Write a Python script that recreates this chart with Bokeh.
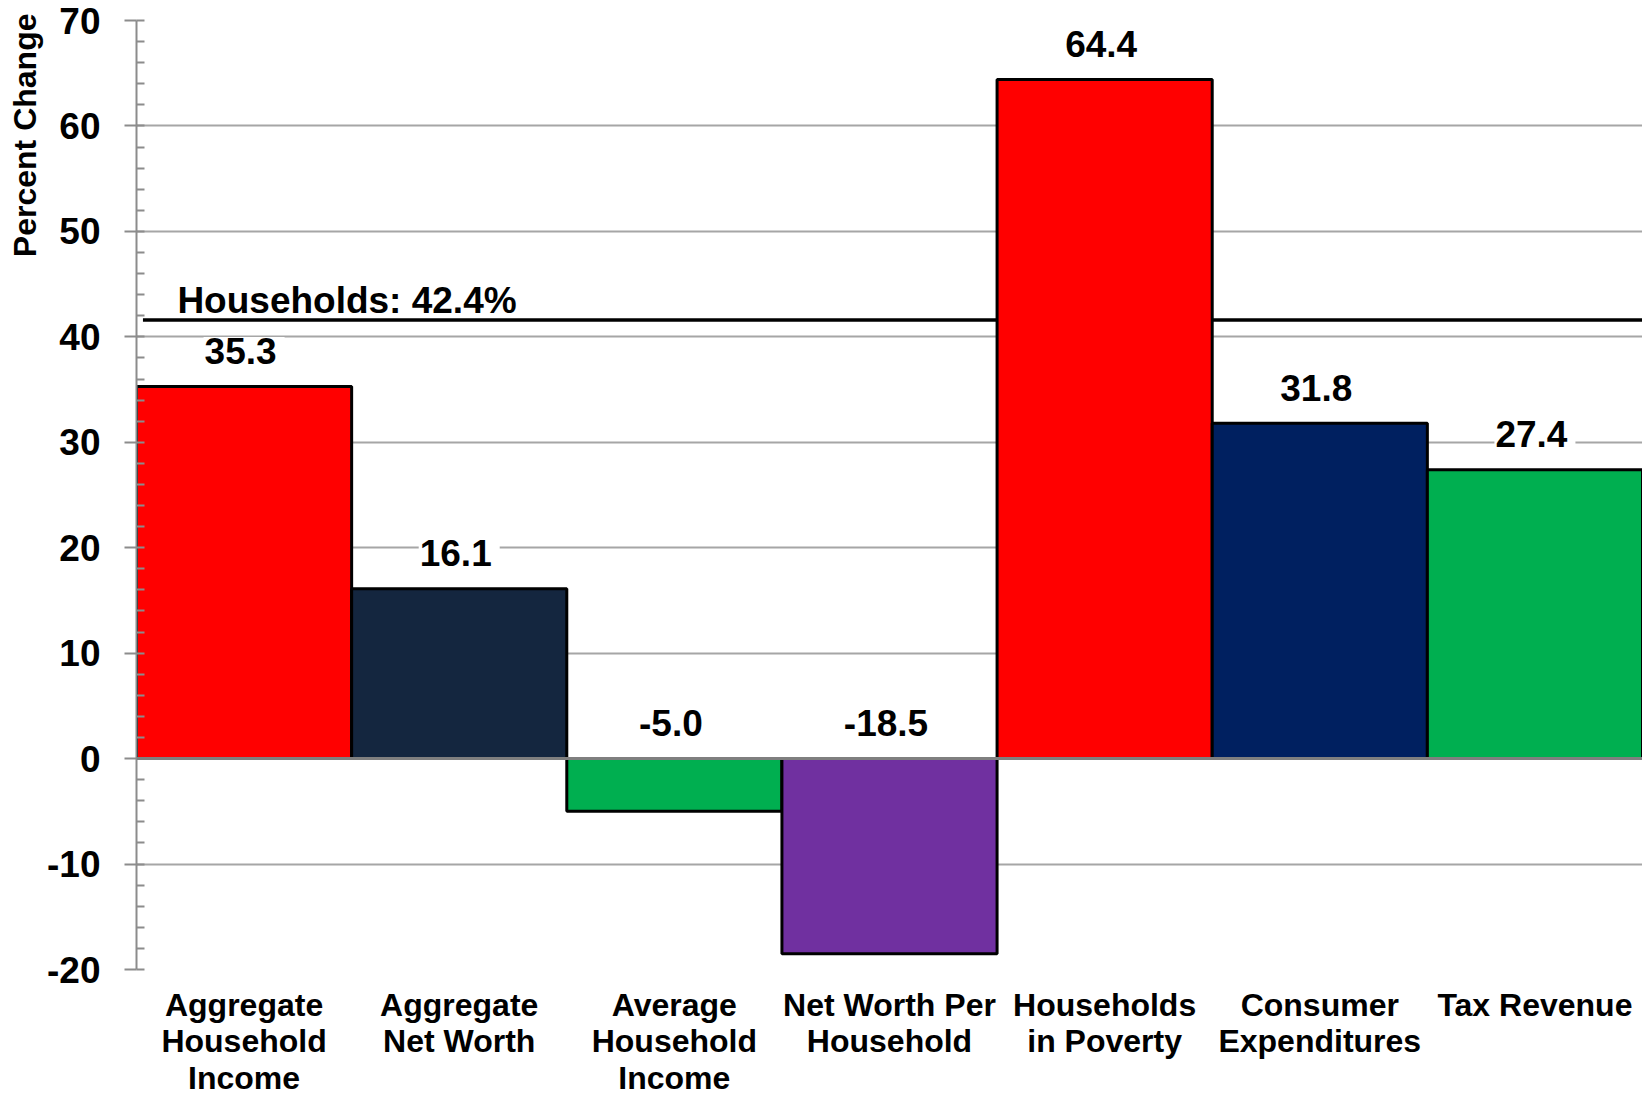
from bokeh.plotting import figure
from bokeh.models import FactorRange, Range1d, Span, Label, ColumnDataSource, FixedTicker, Title
from bokeh.core.properties import value
from bokeh.embed import file_html
from bokeh.resources import INLINE

categories = [
    "Aggregate\nHousehold\nIncome",
    "Aggregate\nNet Worth",
    "Average\nHousehold\nIncome",
    "Net Worth Per\nHousehold",
    "Households\nin Poverty",
    "Consumer\nExpenditures",
    "Tax Revenue",
]
values = [35.3, 16.1, -5.0, -18.5, 64.4, 31.8, 27.4]
colors = ["#FF0000", "#14263F", "#00AF50", "#7030A0", "#FF0000", "#002060", "#00AF50"]
value_labels = ["35.3", "16.1", "-5.0", "-18.5", "64.4", "31.8", "27.4"]
y_ticks = [-20, -10, 0, 10, 20, 30, 40, 50, 60, 70]
y_tick_labels = ["-20", "-10", "0", "10", "20", "30", "40", "50", "60", "70"]
households_text = "Households: 42.4%"
households_line_level = 41.6  # where the drawn reference line sits

FONT = "Liberation Sans"

label_y = [max(v, 0) for v in values]
src = ColumnDataSource(dict(cat=categories, val=values, color=colors,
                            lab=value_labels, laby=label_y))

p = figure(width=1642, height=1098, x_range=FactorRange(*categories, range_padding=0),
           y_range=Range1d(-20, 70), output_backend="svg", toolbar_location=None,
           min_border_left=136, min_border_right=0, min_border_top=20, min_border_bottom=127)
p.outline_line_color = None
p.background_fill_color = "white"

# grid
p.xgrid.grid_line_color = None
p.ygrid.grid_line_color = "#A6A6A6"
p.ygrid.grid_line_width = 2
p.yaxis.ticker = FixedTicker(ticks=y_ticks, minor_ticks=list(range(-20, 71, 2)))
p.yaxis.major_label_overrides = dict(zip(y_ticks, y_tick_labels))

# households reference line (behind bars)
p.segment(x0=[0.03], y0=[households_line_level], x1=[7.0], y1=[households_line_level],
          line_color="black", line_width=3.5)

# bars
p.vbar(x="cat", top="val", bottom=0, width=1.0, fill_color="color", line_color="black",
       line_width=3, source=src)

# zero line
p.add_layout(Span(location=0, dimension="width", line_color="#7F7F7F", line_width=3))

# value labels
p.text(x="cat", y="laby", text="lab", source=src, text_align="center", text_baseline="middle",
       y_offset=-32, text_font=value(FONT), text_font_style="bold", text_font_size="37px",
       text_color="black", background_fill_color="white", padding=[1, 8, 1, 8])

# households label
p.add_layout(Label(x=0.19, y=households_line_level + 1.8, text=households_text,
                   text_font=FONT, text_font_style="bold", text_font_size="37px",
                   text_color="black", text_baseline="alphabetic"))

# y axis title, placed at the top of the left side like the original
p.add_layout(Title(text="Percent Change", align="right", text_font=FONT,
                   text_font_style="bold", text_font_size="32px", text_color="black",
                   standoff=4, offset=-7), "left")

# y axis
ya = p.yaxis[0]
ya.axis_line_color = "#8C8C8C"
ya.axis_line_width = 2
ya.major_tick_line_color = "#8C8C8C"
ya.major_tick_line_width = 2
ya.major_tick_out = 12
ya.major_tick_in = 0
ya.minor_tick_line_color = "#8C8C8C"
ya.minor_tick_line_width = 2
ya.minor_tick_in = 8
ya.minor_tick_out = 0
ya.major_label_standoff = 24
ya.major_label_text_font = FONT
ya.major_label_text_font_style = "bold"
ya.major_label_text_font_size = "37px"
ya.major_label_text_color = "black"

# x axis
xa = p.xaxis[0]
xa.axis_line_color = None
xa.major_tick_line_color = None
xa.minor_tick_line_color = None
xa.major_tick_out = 0
xa.major_tick_in = 0
xa.major_label_standoff = 17
xa.major_label_text_font = FONT
xa.major_label_text_font_style = "bold"
xa.major_label_text_font_size = "32px"
xa.major_label_text_line_height = 1.02
xa.major_label_text_color = "black"
xa.major_label_orientation = "horizontal"

open("out.html", "w").write(file_html(p, INLINE))
